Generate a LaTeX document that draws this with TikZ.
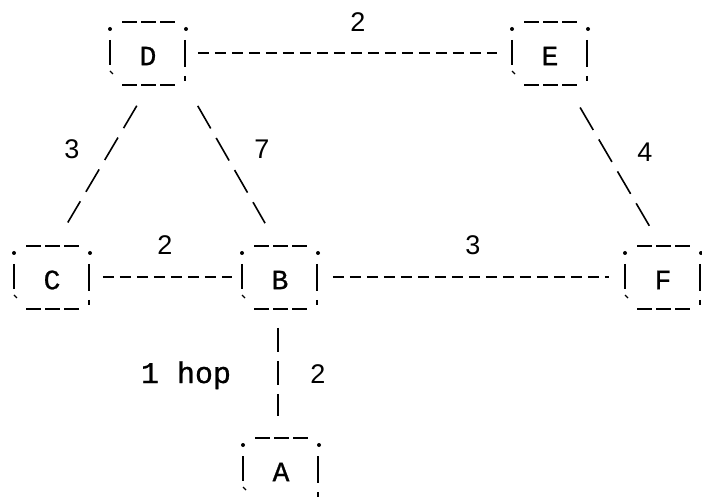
\documentclass[tikz,border=0pt]{standalone}
\usepackage{fontspec}
\setmonofont{Liberation Mono}
\setsansfont{Liberation Sans}
\newfontfamily\twfont[FakeBold=0.8]{Liberation Mono}
\begin{document}
\begin{tikzpicture}[x=1pt,y=-1pt, line width=1.6pt,
  nd/.style={font=\twfont\fontsize{28}{28}\selectfont, inner sep=0pt, minimum width=76pt, minimum height=60pt},
  hline/.style={dash pattern=on 11pt off 6pt},
  dline/.style={dash pattern=on 26pt off 11pt},
  vline/.style={dash pattern=on 24pt off 9pt},
  wt/.style={font=\sffamily\fontsize{27}{27}\selectfont, anchor=base, inner sep=0pt},
  hoptext/.style={font=\twfont\fontsize{30}{30}\selectfont, anchor=base, inner sep=0pt},
  framedash/.style={dash pattern=on 15pt off 4pt}]
\useasboundingbox (0,0) rectangle (702,497);
\clip (0,0) rectangle (702,497);
% nodes
\node[nd] (D) at (148,56) {D};
\node[nd] (E) at (550,56) {E};
\node[nd] (C) at (52,280) {C};
\node[nd] (B) at (280,280) {B};
\node[nd] (F) at (663,280) {F};
\node[nd] (A) at (281,472) {A};
% typewriter-style frames
\foreach \n in {A,B,C,D,E,F}{
  \begin{scope}[shift={(\n.center)}]
    \draw[framedash] (-26,-34) -- (27,-34);
    \draw[framedash] (-26,29) -- (27,29);
    \fill (-38,-27) circle (2pt);
    \fill (38,-27) circle (2pt);
    \draw (-38,-16) -- (-38,9);
    \draw (37,-16) -- (37,11);
    \draw[line width=1.2pt] (-38,15) -- (-35,18);
    \draw (37,20) -- (37,25);
  \end{scope}
}
% connectors
\draw[hline, shorten <=11pt, shorten >=14pt] ([yshift=3pt]D.east) -- ([yshift=3pt]E.west);
\draw[hline, shorten <=12pt, shorten >=9pt] ([yshift=3pt]C.east) -- ([yshift=3pt]B.west);
\draw[hline, shorten <=14pt, shorten >=15pt] ([yshift=3pt]B.east) -- ([yshift=3pt]F.west);
\draw[vline, shorten <=17pt, shorten >=25pt] ([xshift=-2pt]B.south) -- ([xshift=-3pt]A.north);
\draw[dline, shorten <=22pt, shorten >=31pt] (D.south) -- (C.north);
\draw[dline, shorten <=22pt, shorten >=30pt] (D.south east) -- (B.north);
\draw[dline, shorten <=24pt, shorten >=25pt] ([xshift=18pt]E.south) -- (F.north);
% labels
\node[wt] (wDE) at (358,32) {2};
\node[wt] (wDC) at (72,159) {3};
\node[wt] (wDB) at (262,159) {7};
\node[wt] (wCB) at (165,255) {2};
\node[wt] (wBF) at (473,255) {3};
\node[wt] (wEF) at (645,162) {4};
\node[wt] (wBA) at (318,383) {2};
\node[hoptext] (hop) at (186,383) {1 hop};
\end{tikzpicture}
\end{document}
